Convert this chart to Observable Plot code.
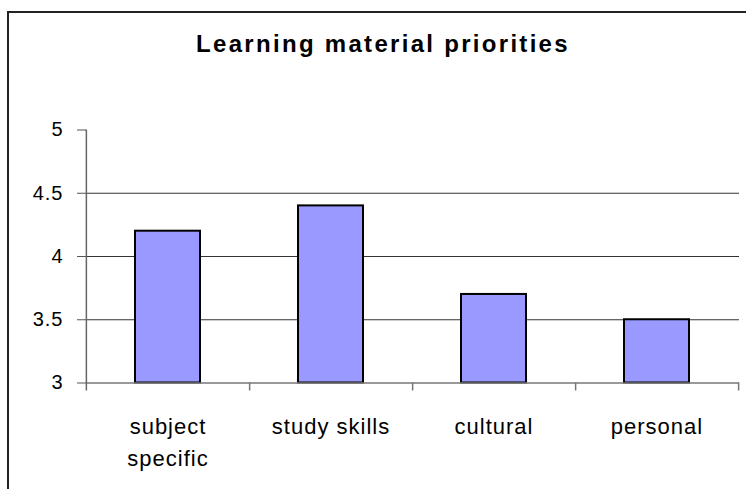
<!DOCTYPE html>
<html>
<head>
<meta charset="utf-8">
<script src="https://cdn.jsdelivr.net/npm/d3@7"></script>
<script src="https://cdn.jsdelivr.net/npm/@observablehq/plot@0.6"></script>
<style>
  html, body { margin: 0; padding: 0; background: #fff; }
  #wrap { position: relative; width: 746px; height: 489px; overflow: hidden; background: #fff; }
  #border { position: absolute; left: 7px; top: 11px; right: -20px; bottom: -20px;
            border-left: 2px solid #222; border-top: 2px solid #222; pointer-events: none; }
  #wrap svg { position: absolute; left: 0; top: 0; }
  g[font-size="22"] text { letter-spacing: 1px; }
  g[font-size="20"] text { letter-spacing: 1px; }
  g[font-size="24"] text { letter-spacing: 2.3px; }
</style>
</head>
<body>
<div id="wrap"><div id="border"></div></div>
<script>
const title = "Learning material priorities";
const categories = ["subject specific", "study skills", "cultural", "personal"];
const labels = ["subject\nspecific", "study skills", "cultural", "personal"];
const values = [4.2, 4.4, 3.7, 3.5];
const yTicks = [3, 3.5, 4, 4.5, 5];
const gridValues = [3.5, 4, 4.5];

const data = categories.map((c, i) => ({cat: c, label: labels[i], value: values[i]}));

const W = 746, H = 489;
const mL = 86, mR = 7, mT = 129.5, mB = 106.5;
const step = (W - mL - mR) / categories.length;

const chart = Plot.plot({
  width: W,
  height: H,
  marginLeft: mL,
  marginRight: mR,
  marginTop: mT,
  marginBottom: mB,
  style: {fontFamily: "'Liberation Sans', Arial, sans-serif", fontSize: "20px", background: "transparent", overflow: "visible"},
  x: {type: "band", domain: categories, paddingInner: 0.6, paddingOuter: 0.3, label: null},
  y: {domain: [yTicks[0], yTicks[yTicks.length - 1]], label: null},
  marks: [
    Plot.ruleY(gridValues, {stroke: "#333", strokeWidth: 1}),
    Plot.barY(data, {x: "cat", y1: yTicks[0], y2: "value", fill: "#9999ff", stroke: "#000", strokeWidth: 2}),
    Plot.ruleY([yTicks[0]], {stroke: "#777", strokeWidth: 1.5}),
    Plot.ruleX([categories[0]], {dx: -step / 2, stroke: "#666", strokeWidth: 1.5, insetBottom: -8}),
    Plot.axisX({tickSize: 8, dx: step / 2, tickFormat: () => "", label: null, stroke: "#777", strokeWidth: 1.5}),
    Plot.axisY({ticks: yTicks, tickSize: 9, tickPadding: 14, fontSize: 20, label: null, stroke: "#555", tickFormat: d => String(d)}),
    Plot.text(data, {x: "cat", text: "label", frameAnchor: "bottom", lineAnchor: "top", dy: 28.9, fontSize: 22, lineHeight: 1.43, fill: "#000"}),
    Plot.text([title], {frameAnchor: "top", lineAnchor: "top", dx: -30, dy: -95.5, fontSize: 24, fontWeight: "bold", fill: "#000"})
  ]
});

document.getElementById("wrap").appendChild(chart);
</script>
</body>
</html>
